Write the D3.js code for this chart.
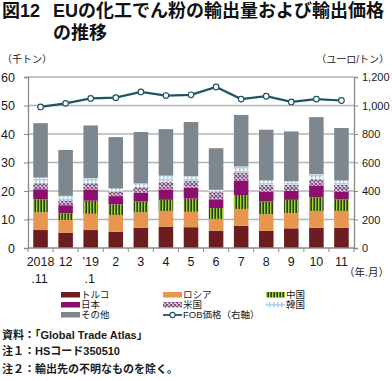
<!DOCTYPE html>
<html><head><meta charset="utf-8">
<script src="https://cdn.jsdelivr.net/npm/d3@7"></script>
<style>
html,body{margin:0;padding:0;background:#fff;}
svg{display:block;font-family:"Liberation Sans",Arial,"Noto Sans CJK JP",sans-serif;}
</style></head><body>
<svg id="c" width="392" height="381"></svg>
<script>
const catLine1 = ["2018","12","’19","2","3","4","5","6","7","8","9","10","11"];
const catLine2 = [".11","",".1","","","","","","","","","",""];
const turkey = [6.3,5.4,6.3,5.7,7.1,7.5,7.3,6.1,7.8,6.0,6.9,7.1,7.1];
const russia = [6.2,4.4,5.7,5.9,5.4,5.5,5.4,4.1,5.9,5.8,5.3,5.9,5.9];
const china  = [4.6,2.4,4.6,3.7,3.8,3.9,4.6,3.8,4.9,4.5,4.7,4.8,4.1];
const japan  = [3.5,2.8,3.8,2.9,3.1,3.5,3.8,3.1,5.1,3.5,3.1,4.0,2.7];
const usa    = [2.1,1.7,2.3,1.5,1.9,2.9,2.4,2.5,2.8,2.3,2.2,2.3,2.3];
const korea  = [2.0,1.6,1.8,1.2,1.4,2.1,1.7,0.8,2.1,1.6,1.2,1.8,1.6];
const other  = [19.1,16.1,18.5,18.0,18.0,16.3,19.0,14.6,18.1,17.8,17.5,20.0,18.4];
const fob    = [990,1015,1050,1055,1095,1070,1075,1130,1045,1065,1025,1045,1035];
const leftTicks = [0,10,20,30,40,50,60];
const rightTicks = [0,200,400,600,800,1000,1200];
const seriesNames = ["トルコ","ロシア","中国","日本","米国","韓国","その他"];
const seriesData = [turkey,russia,china,japan,usa,korea,other];

const svg = d3.select("#c");
const defs = svg.append("defs");
const pc = defs.append("pattern").attr("id","pChina").attr("patternUnits","userSpaceOnUse").attr("width",3).attr("height",3);
pc.append("rect").attr("width",3).attr("height",3).attr("fill","#27420f");
pc.append("rect").attr("width",1.4).attr("height",3).attr("fill","#a4d13b");
const pu = defs.append("pattern").attr("id","pUS").attr("patternUnits","userSpaceOnUse").attr("width",4).attr("height",4);
pu.append("rect").attr("width",4).attr("height",4).attr("fill","#e6dce6");
pu.append("path").attr("d","M0,0 L4,4 M4,0 L0,4").attr("stroke","#7b4a7b").attr("stroke-width",1.1);
const pk = defs.append("pattern").attr("id","pKorea").attr("patternUnits","userSpaceOnUse").attr("width",4).attr("height",4);
pk.append("rect").attr("width",4).attr("height",4).attr("fill","#a9d4e7");
pk.append("rect").attr("x",0.5).attr("y",0.5).attr("width",2.5).attr("height",2.5).attr("fill","#ffffff");

const fills = ["#6b1d1f","#e8964f","url(#pChina)","#8c0f70","url(#pUS)","url(#pKorea)","#7e878d"];

const x = d3.scaleBand().domain(d3.range(catLine1.length)).range([28,354]).paddingInner(0.42).paddingOuter(0.21);
const y = d3.scaleLinear().domain([0,60]).range([248,77]);
const yR = d3.scaleLinear().domain([0,1200]).range([248,77]);

svg.append("text").attr("x",2).attr("y",17).attr("font-size",18).attr("font-weight","bold").attr("fill","#111").text("図12");
svg.append("text").attr("x",53).attr("y",17).attr("font-size",18).attr("font-weight","bold").attr("fill","#111").text("EUの化工でん粉の輸出量および輸出価格");
svg.append("text").attr("x",53).attr("y",39).attr("font-size",18).attr("font-weight","bold").attr("fill","#111").text("の推移");

svg.append("text").attr("x",2).attr("y",63).attr("font-size",10).attr("fill","#222").text("（千トン）");
svg.append("text").attr("x",389).attr("y",63).attr("font-size",10).attr("fill","#222").attr("text-anchor","end").text("（ユーロ/トン）");

svg.append("g").selectAll("line").data(leftTicks.filter(d=>d>0)).join("line")
  .attr("x1",28).attr("x2",354).attr("y1",d=>y(d)).attr("y2",d=>y(d))
  .attr("stroke","#b3b3b3").attr("stroke-width",1.6);

const stackInput = catLine1.map((c,i)=>{const o={i}; seriesData.forEach((s,k)=>o["s"+k]=s[i]); return o;});
const stack = d3.stack().keys(seriesData.map((s,k)=>"s"+k))(stackInput);
svg.append("g").selectAll("g").data(stack).join("g").attr("fill",(d,k)=>fills[k])
  .selectAll("rect").data(d=>d).join("rect")
  .attr("x",d=>x(d.data.i)).attr("width",x.bandwidth())
  .attr("y",d=>y(d[1])).attr("height",d=>y(d[0])-y(d[1]));

const axisCol = "#8a8a8a";
const leftAxis = d3.axisLeft(y).tickValues(leftTicks).tickSize(4).tickFormat(d3.format("d"));
const gL = svg.append("g").attr("transform","translate(28,0)").call(leftAxis);
gL.select(".domain").attr("stroke",axisCol).attr("stroke-width",1.3);
gL.selectAll(".tick line").attr("stroke",axisCol);
gL.selectAll(".tick text").attr("x",-13).attr("font-size",12.5).attr("fill","#1a1a1a").attr("font-family",null);

const rightAxis = d3.axisRight(yR).tickValues(rightTicks).tickSize(4).tickFormat(d3.format(","));
const gR = svg.append("g").attr("transform","translate(354,0)").call(rightAxis);
gR.select(".domain").attr("stroke",axisCol).attr("stroke-width",1.3);
gR.selectAll(".tick line").attr("stroke",axisCol);
gR.selectAll(".tick text").attr("x",8).attr("font-size",11).attr("fill","#1a1a1a").attr("font-family",null);

svg.append("line").attr("x1",28).attr("x2",354).attr("y1",248).attr("y2",248).attr("stroke",axisCol).attr("stroke-width",1.3);
svg.append("g").selectAll("line").data(d3.range(catLine1.length+1)).join("line")
  .attr("x1",i=>x.range()[0]+i*x.step()).attr("x2",i=>x.range()[0]+i*x.step())
  .attr("y1",248).attr("y2",252).attr("stroke",axisCol);
const xl = svg.append("g").selectAll("g").data(d3.range(catLine1.length)).join("g");
xl.append("text").attr("x",i=>x(i)+x.bandwidth()/2).attr("y",266).attr("text-anchor","middle")
  .attr("font-size",12.5).attr("fill","#1a1a1a").text(i=>catLine1[i]);
xl.append("text").attr("x",i=>x(i)+x.bandwidth()/2-1).attr("y",283).attr("text-anchor","middle")
  .attr("font-size",12.5).attr("fill","#1a1a1a").text(i=>catLine2[i]);
svg.append("text").attr("x",389).attr("y",276).attr("text-anchor","end").attr("font-size",10.5).attr("fill","#1a1a1a").text("（年.月）");

const lineCol = "#1d5563";
const line = d3.line().x((d,i)=>x(i)+x.bandwidth()/2).y(d=>yR(d));
svg.append("path").datum(fob).attr("d",line).attr("fill","none").attr("stroke",lineCol).attr("stroke-width",2.2);
svg.append("g").selectAll("circle").data(fob).join("circle")
  .attr("cx",(d,i)=>x(i)+x.bandwidth()/2).attr("cy",d=>yR(d)).attr("r",2.8)
  .attr("fill","#fff").attr("stroke",lineCol).attr("stroke-width",1.2);

const legendItems = [
  {name:"トルコ",k:0,col:0,row:0},{name:"ロシア",k:1,col:1,row:0},{name:"中国",k:2,col:2,row:0},
  {name:"日本",k:3,col:0,row:1},{name:"米国",k:4,col:1,row:1},{name:"韓国",k:5,col:2,row:1},
  {name:"その他",k:6,col:0,row:2},{name:"FOB価格（右軸）",k:-1,col:1,row:2}
];
const colX = [61,163,266];
const rowY = [295,305,315];
const lg = svg.append("g").selectAll("g").data(legendItems).join("g")
  .attr("transform",d=>`translate(${colX[d.col]},${rowY[d.row]})`);
lg.filter(d=>d.k>=0).append("rect").attr("x",0).attr("y",-3).attr("width",19).attr("height",5.5).attr("fill",d=>fills[d.k]);
const fl = lg.filter(d=>d.k<0);
fl.append("line").attr("x1",0).attr("x2",19).attr("y1",0).attr("y2",0).attr("stroke",lineCol).attr("stroke-width",1.8);
fl.append("circle").attr("cx",9.5).attr("cy",0).attr("r",2.6).attr("fill","#fff").attr("stroke",lineCol).attr("stroke-width",1.1);
lg.append("text").attr("x",20).attr("y",0).attr("dy","0.35em").attr("font-size",9.5).attr("fill","#1a1a1a").text(d=>d.name);

const notes = ["資料：「Global Trade Atlas」","注１：HSコード350510","注２：輸出先の不明なものを除く。"];
svg.append("g").selectAll("text").data(notes).join("text")
  .attr("x",2).attr("y",(d,i)=>[339,355,373][i]).attr("font-size",11).attr("font-weight","bold").attr("fill","#1a1a1a").text(d=>d);
</script>
</body></html>
